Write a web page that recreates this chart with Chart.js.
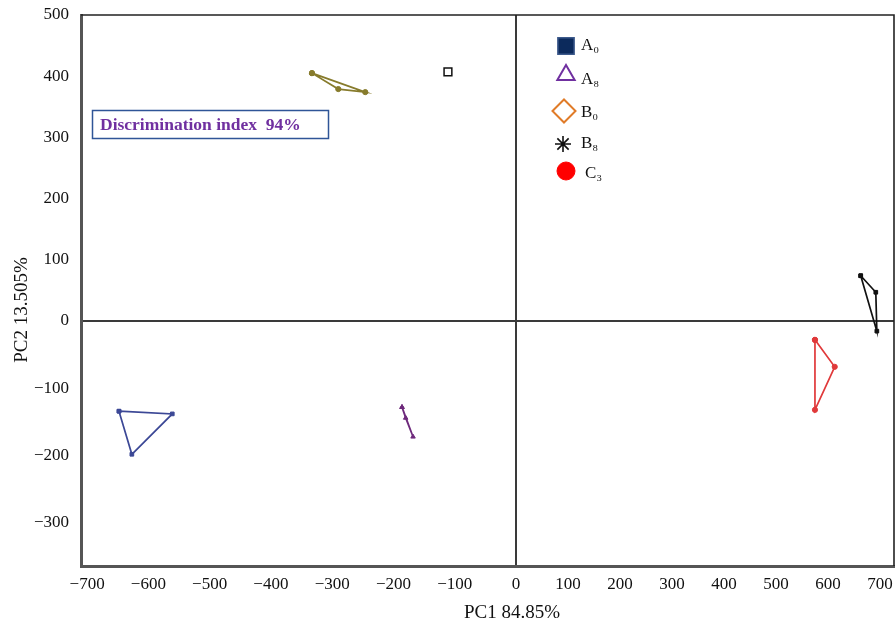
<!DOCTYPE html>
<html>
<head>
<meta charset="utf-8">
<script src="https://cdn.jsdelivr.net/npm/chart.js@4.4.1/dist/chart.umd.min.js"></script>
<style>
  body { margin: 0; background: #fff; }
  #wrap { width: 896px; height: 627px; }
</style>
</head>
<body>
<div id="wrap"><canvas id="pca"></canvas></div>
<script>
const xTicks = [-700, -600, -500, -400, -300, -200, -100, 0, 100, 200, 300, 400, 500, 600, 700];
const yTicks = [-300, -200, -100, 0, 100, 200, 300, 400, 500];

const groups = ['A₀', 'A₈', 'B₀', 'B₈', 'C₃'];

// score coordinates, three replicates per sample
const a0X = [-648, -561, -627];
const a0Y = [-134, -138, -198];
const a8X = [-186, -180, -168];
const a8Y = [-128, -144, -172];
const b0X = [-333, -290, -246];
const b0Y = [405, 379, 374];
const b8X = [663, 692, 694];
const b8Y = [74, 47, -15];
const c3X = [575, 613, 575];
const c3Y = [-28, -68, -132];
const loneX = [-111];
const loneY = [407];

const serif = '"Liberation Serif", "DejaVu Serif", serif';

// the original figure has a different scale on each side of zero
class SplitLinearScale extends Chart.LinearScale {
  toDecimal(v) {
    const s = this.options.split;
    if (v < 0) return s * (v - this.min) / (0 - this.min);
    return s + (1 - s) * v / this.max;
  }
  getPixelForValue(value) {
    if (value === null || value === undefined) return NaN;
    return this.getPixelForDecimal(this.toDecimal(value));
  }
  getValueForPixel(pixel) {
    const d = this.getDecimalForPixel(pixel);
    const s = this.options.split;
    if (d < s) return this.min + d / s * (0 - this.min);
    return (d - s) / (1 - s) * this.max;
  }
}
SplitLinearScale.id = 'splitLinear';
SplitLinearScale.defaults = Chart.LinearScale.defaults;
Chart.register(SplitLinearScale);

function closed(xs, ys) {
  const pts = xs.map((x, i) => ({ x: x, y: ys[i] }));
  pts.push(pts[0]);
  return pts;
}

function cluster(label, xs, ys, color, style, legend) {
  return {
    label: label,
    data: closed(xs, ys),
    showLine: true,
    borderColor: color,
    backgroundColor: color,
    borderWidth: 1.7,
    pointStyle: style,
    pointRadius: 2.6,
    pointBorderWidth: 1,
    legendStyle: legend
  };
}

const minusFix = v => String(v).replace('-', '\u2212');

const overlay = {
  id: 'overlay',
  afterDraw(chart) {
    const ctx = chart.ctx;
    const a = chart.chartArea;
    ctx.save();
    // top and right frame
    ctx.strokeStyle = '#222';
    ctx.lineWidth = 1.6;
    ctx.beginPath();
    ctx.moveTo(a.left, a.top);
    ctx.lineTo(a.right, a.top);
    ctx.lineTo(a.right, a.bottom);
    ctx.stroke();

    // discrimination index box
    ctx.strokeStyle = '#2f5597';
    ctx.lineWidth = 1.5;
    ctx.strokeRect(92.5, 110.5, 236, 28);
    ctx.fillStyle = '#7030a0';
    ctx.font = 'bold 17.5px ' + serif;
    ctx.textBaseline = 'middle';
    ctx.textAlign = 'left';
    ctx.fillText('Discrimination index  94%', 100, 125);

    // legend
    const rows = [50, 84, 117, 148, 178];
    const textX = [581, 581, 581, 581, 585];
    chart.data.datasets.forEach((ds, i) => {
      if (!ds.legendStyle) return;
      const L = ds.legendStyle;
      ctx.fillStyle = L.fill;
      ctx.strokeStyle = L.stroke;
      ctx.lineWidth = L.width;
      Chart.helpers.drawPoint(ctx, { pointStyle: L.style, radius: L.radius, rotation: 0, borderWidth: L.width }, L.cx, L.cy);
      ctx.fillStyle = '#111';
      ctx.font = '17px ' + serif;
      ctx.textBaseline = 'alphabetic';
      ctx.fillText(ds.label, textX[i], rows[i]);
    });

    // axis titles
    ctx.fillStyle = '#111';
    ctx.font = '19px ' + serif;
    ctx.textAlign = 'center';
    ctx.textBaseline = 'middle';
    ctx.fillText('PC1 84.85%', 512, 613);
    ctx.translate(22, 310);
    ctx.rotate(-Math.PI / 2);
    ctx.fillText('PC2 13.505%', 0, 0);
    ctx.restore();
  }
};

const zeroLine = c => (c.tick && c.tick.value === 0) ? '#3a3a3a' : 'rgba(0,0,0,0)';

new Chart(document.getElementById('pca'), {
  type: 'scatter',
  data: {
    datasets: [
      cluster(groups[0], a0X, a0Y, '#3c4896', 'rect',
        { style: 'rect', radius: 11.5, fill: '#0c2a5c', stroke: '#3d5a8c', width: 1.5, cx: 566, cy: 46 }),
      cluster(groups[1], a8X, a8Y, '#6e2a7c', 'triangle',
        { style: 'triangle', radius: 10, fill: '#fff', stroke: '#7030a0', width: 2, cx: 566, cy: 75 }),
      cluster(groups[2], b0X, b0Y, '#877b2c', 'circle',
        { style: 'rectRot', radius: 11.5, fill: '#fff', stroke: '#e07b28', width: 2, cx: 564, cy: 111 }),
      cluster(groups[3], b8X, b8Y, '#111111', 'rect',
        { style: 'star', radius: 8, fill: '#111', stroke: '#111', width: 1.6, cx: 563, cy: 144 }),
      cluster(groups[4], c3X, c3Y, '#e0393a', 'circle',
        { style: 'circle', radius: 9, fill: '#ff0000', stroke: '#ff0000', width: 1, cx: 566, cy: 171 }),
      {
        label: 'lone',
        data: loneX.map((x, i) => ({ x: x, y: loneY[i] })),
        pointStyle: 'rect',
        pointRadius: 5.5,
        pointBorderWidth: 1.5,
        borderColor: '#111',
        backgroundColor: '#fff'
      }
    ]
  },
  options: {
    responsive: true,
    maintainAspectRatio: false,
    animation: false,
    layout: { autoPadding: false, padding: { top: 15, right: 2, left: 0, bottom: 0 } },
    plugins: { legend: { display: false }, tooltip: { enabled: false } },
    scales: {
      x: {
        type: 'splitLinear',
        split: 0.535,
        min: -710,
        max: 727,
        afterBuildTicks: s => { s.ticks = xTicks.map(v => ({ value: v })); },
        afterFit: s => { s.height = 61; s.paddingLeft = 0; s.paddingRight = 0; },
        grid: { color: zeroLine, lineWidth: 2, drawTicks: false },
        border: { display: true, color: '#555', width: 3 },
        ticks: { padding: 8, color: '#111', font: { family: serif, size: 17 }, callback: minusFix, maxRotation: 0, autoSkip: false }
      },
      y: {
        type: 'splitLinear',
        split: 0.4446,
        min: -364,
        max: 500,
        afterBuildTicks: s => { s.ticks = yTicks.map(v => ({ value: v })); },
        afterFit: s => { s.width = 81; s.paddingTop = 0; s.paddingBottom = 0; },
        grid: { color: zeroLine, lineWidth: 2, drawTicks: false },
        border: { display: true, color: '#555', width: 3 },
        ticks: { padding: 12, color: '#111', font: { family: serif, size: 17 }, callback: minusFix, autoSkip: false }
      }
    }
  },
  plugins: [overlay]
});
</script>
</body>
</html>
